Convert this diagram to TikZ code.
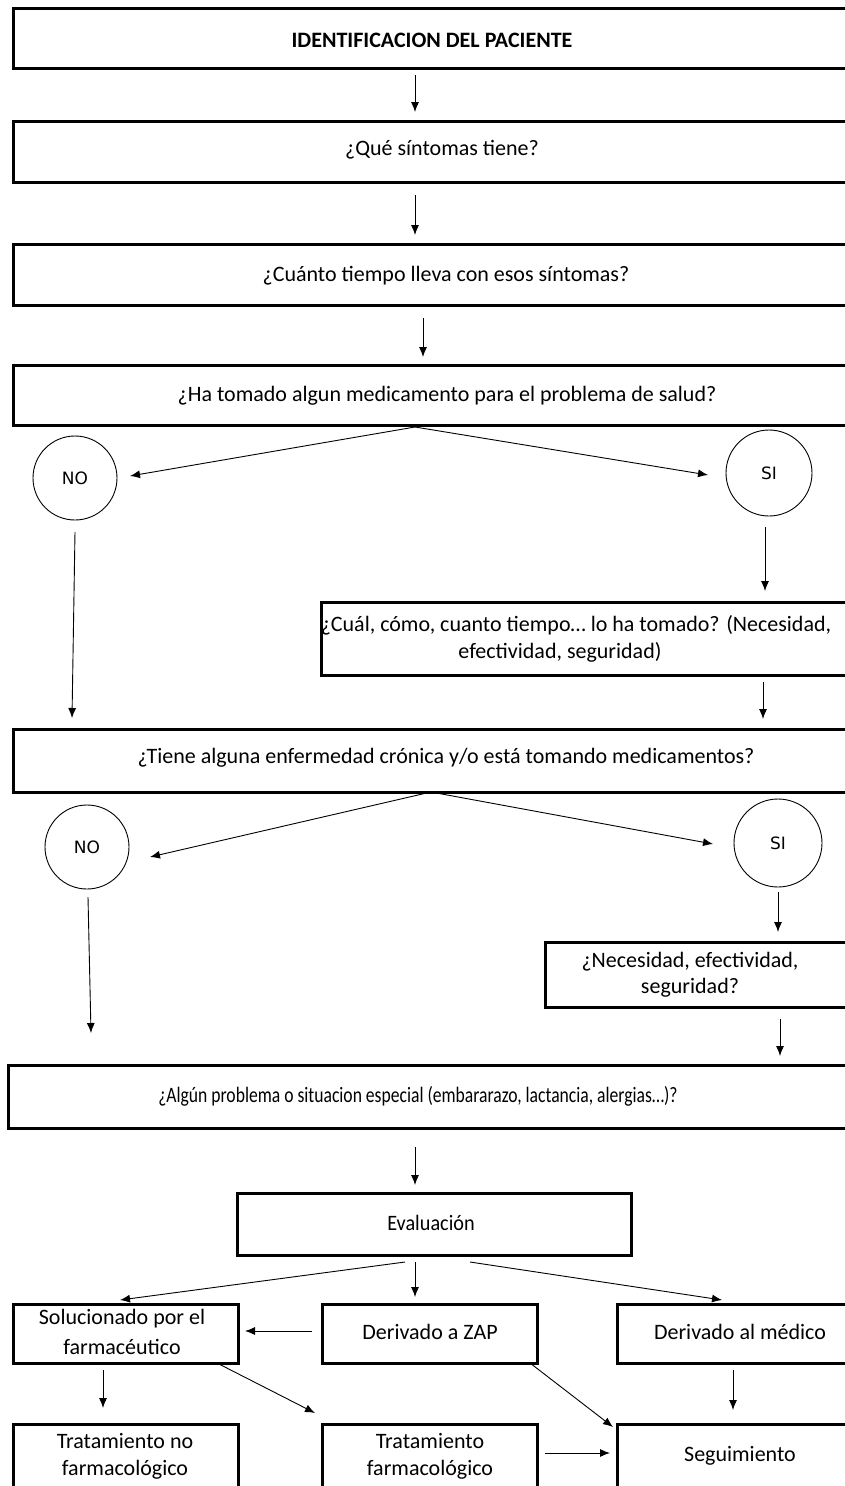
\documentclass[tikz,border=0pt]{standalone}
\usepackage{fontspec}
\setmainfont{Carlito}
\newfontfamily\circfont{DejaVu Sans}
\usetikzlibrary{arrows.meta}
\begin{document}
\begin{tikzpicture}[x=1pt,y=-1pt,
  box/.style={draw, line width=2.6pt, inner sep=0pt, anchor=north west},
  txt/.style={inner sep=0pt, font=\fontsize{22}{26}\selectfont},
  circ/.style={draw, circle, line width=0.9pt, inner sep=0pt, font=\circfont\fontsize{17}{20}\selectfont},
  arr/.style={line width=0.9pt, -{Latex[length=10pt,width=8pt]}}]
\useasboundingbox (0,0) rectangle (845,1486);
\clip (0,0) rectangle (845,1486);

% boxes
\node[box, minimum width=858pt, minimum height=60pt] (b1) at (12,7) {};
\node[txt, font=\fontsize{22}{26}\selectfont\bfseries] (t1) at (432,40) {IDENTIFICACION DEL PACIENTE};
\node[box, minimum width=858pt, minimum height=61pt] (b2) at (12,120) {};
\node[txt] (t2) at (442,150) {¿Qué síntomas tiene?};
\node[box, minimum width=858pt, minimum height=61pt] (b3) at (12,243) {};
\node[txt] (t3) at (446,276) {¿Cuánto tiempo lleva con esos síntomas?};
\node[box, minimum width=858pt, minimum height=60pt] (b4) at (12,364) {};
\node[txt] (t4) at (447,396) {¿Ha tomado algun medicamento para el problema de salud?};
\node[circ, minimum size=84pt] (no1) at (75,478) {NO};
\node[circ, minimum size=86pt] (si1) at (769,473) {SI};
\node[box, minimum width=550pt, minimum height=73pt] (b5) at (320,601) {};
\node[txt] (t5a) at (576,625) {¿Cuál, cómo, cuanto tiempo… lo ha tomado? (Necesidad,};
\node[txt] (t5b) at (560,652) {efectividad, seguridad)};
\node[box, minimum width=858pt, minimum height=63pt] (b6) at (12,728) {};
\node[txt] (t6) at (446,758) {¿Tiene alguna enfermedad crónica y/o está tomando medicamentos?};
\node[circ, minimum size=84pt] (no2) at (87,847) {NO};
\node[circ, minimum size=88pt] (si2) at (778,843) {SI};
\node[box, minimum width=326pt, minimum height=65pt] (b7) at (544,941) {};
\node[txt] (t7a) at (690,962) {¿Necesidad, efectividad,};
\node[txt] (t7b) at (690,988) {seguridad?};
\node[box, minimum width=863pt, minimum height=63pt] (b8) at (7,1064) {};
\node[txt] (t8) at (418,1096) {\scalebox{0.8}[1]{¿Algún problema o situacion especial (embararazo, lactancia, alergias…)?}};
\node[box, minimum width=394pt, minimum height=62pt] (b9) at (236,1192) {};
\node[txt] (t9) at (431,1223) {\scalebox{0.92}[1]{Evaluación}};
\node[box, minimum width=225pt, minimum height=59pt] (sol) at (12,1303) {};
\node[txt] (tsa) at (122,1319) {Solucionado por el};
\node[txt] (tsb) at (122,1347) {farmacéutico};
\node[box, minimum width=215pt, minimum height=59pt] (zap) at (321,1303) {};
\node[txt] (tz) at (430,1332) {Derivado a ZAP};
\node[box, minimum width=254pt, minimum height=59pt] (med) at (616,1303) {};
\node[txt] (tm) at (740,1332) {Derivado al médico};
\node[box, minimum width=225pt, minimum height=80pt] (tn) at (12,1423) {};
\node[txt] (tna) at (125,1441) {Tratamiento no};
\node[txt] (tnb) at (125,1470) {farmacológico};
\node[box, minimum width=215pt, minimum height=80pt] (tf) at (321,1423) {};
\node[txt] (tfa) at (430,1441) {Tratamiento};
\node[txt] (tfb) at (430,1470) {farmacológico};
\node[box, minimum width=254pt, minimum height=80pt] (seg) at (616,1423) {};
\node[txt] (ts) at (740,1456) {Seguimiento};

% connector end points
\coordinate (a1s) at (415,75);   \coordinate (a1e) at (415,112);
\coordinate (a2s) at (415,195);  \coordinate (a2e) at (415,235);
\coordinate (a3s) at (423,318);  \coordinate (a3e) at (423,357);
\coordinate (a4s) at (415,427);  \coordinate (a4e) at (130,476);
\coordinate (a5e) at (708,475);
\coordinate (a6s) at (75,532);   \coordinate (a6e) at (72,718);
\coordinate (a7s) at (765,527);  \coordinate (a7e) at (765,591);
\coordinate (a8s) at (763,682);  \coordinate (a8e) at (763,719);
\coordinate (a9s) at (431,792);  \coordinate (a9e) at (150,857);
\coordinate (a10e) at (713,844);
\coordinate (a11s) at (88,897);  \coordinate (a11e) at (91,1033);
\coordinate (a12s) at (778,892); \coordinate (a12e) at (778,932);
\coordinate (a13s) at (780,1019);\coordinate (a13e) at (780,1056);
\coordinate (a14s) at (415,1147);\coordinate (a14e) at (415,1185);
\coordinate (a15s) at (415,1262);\coordinate (a15e) at (415,1297);
\coordinate (a16s) at (405,1262);\coordinate (a16e) at (120,1300);
\coordinate (a17s) at (470,1262);\coordinate (a17e) at (722,1300);
\coordinate (a18s) at (312,1331);\coordinate (a18e) at (245,1331);
\coordinate (a19s) at (103,1370);\coordinate (a19e) at (103,1408);
\coordinate (a20s) at (217,1363);\coordinate (a20e) at (315,1413);
\coordinate (a21s) at (530,1363);\coordinate (a21e) at (613,1427);
\coordinate (a22s) at (733,1370);\coordinate (a22e) at (733,1410);
\coordinate (a23s) at (545,1453);\coordinate (a23e) at (610,1453);

\draw[arr] (a1s) -- (a1e);
\draw[arr] (a2s) -- (a2e);
\draw[arr] (a3s) -- (a3e);
\draw[arr] (a4s) -- (a4e);
\draw[arr] (a4s) -- (a5e);
\draw[arr] (a6s) -- (a6e);
\draw[arr] (a7s) -- (a7e);
\draw[arr] (a8s) -- (a8e);
\draw[arr] (a9s) -- (a9e);
\draw[arr] (a9s) -- (a10e);
\draw[arr] (a11s) -- (a11e);
\draw[arr] (a12s) -- (a12e);
\draw[arr] (a13s) -- (a13e);
\draw[arr] (a14s) -- (a14e);
\draw[arr] (a15s) -- (a15e);
\draw[arr] (a16s) -- (a16e);
\draw[arr] (a17s) -- (a17e);
\draw[arr] (a18s) -- (a18e);
\draw[arr] (a19s) -- (a19e);
\draw[arr] (a20s) -- (a20e);
\draw[arr] (a21s) -- (a21e);
\draw[arr] (a22s) -- (a22e);
\draw[arr] (a23s) -- (a23e);
\end{tikzpicture}
\end{document}
